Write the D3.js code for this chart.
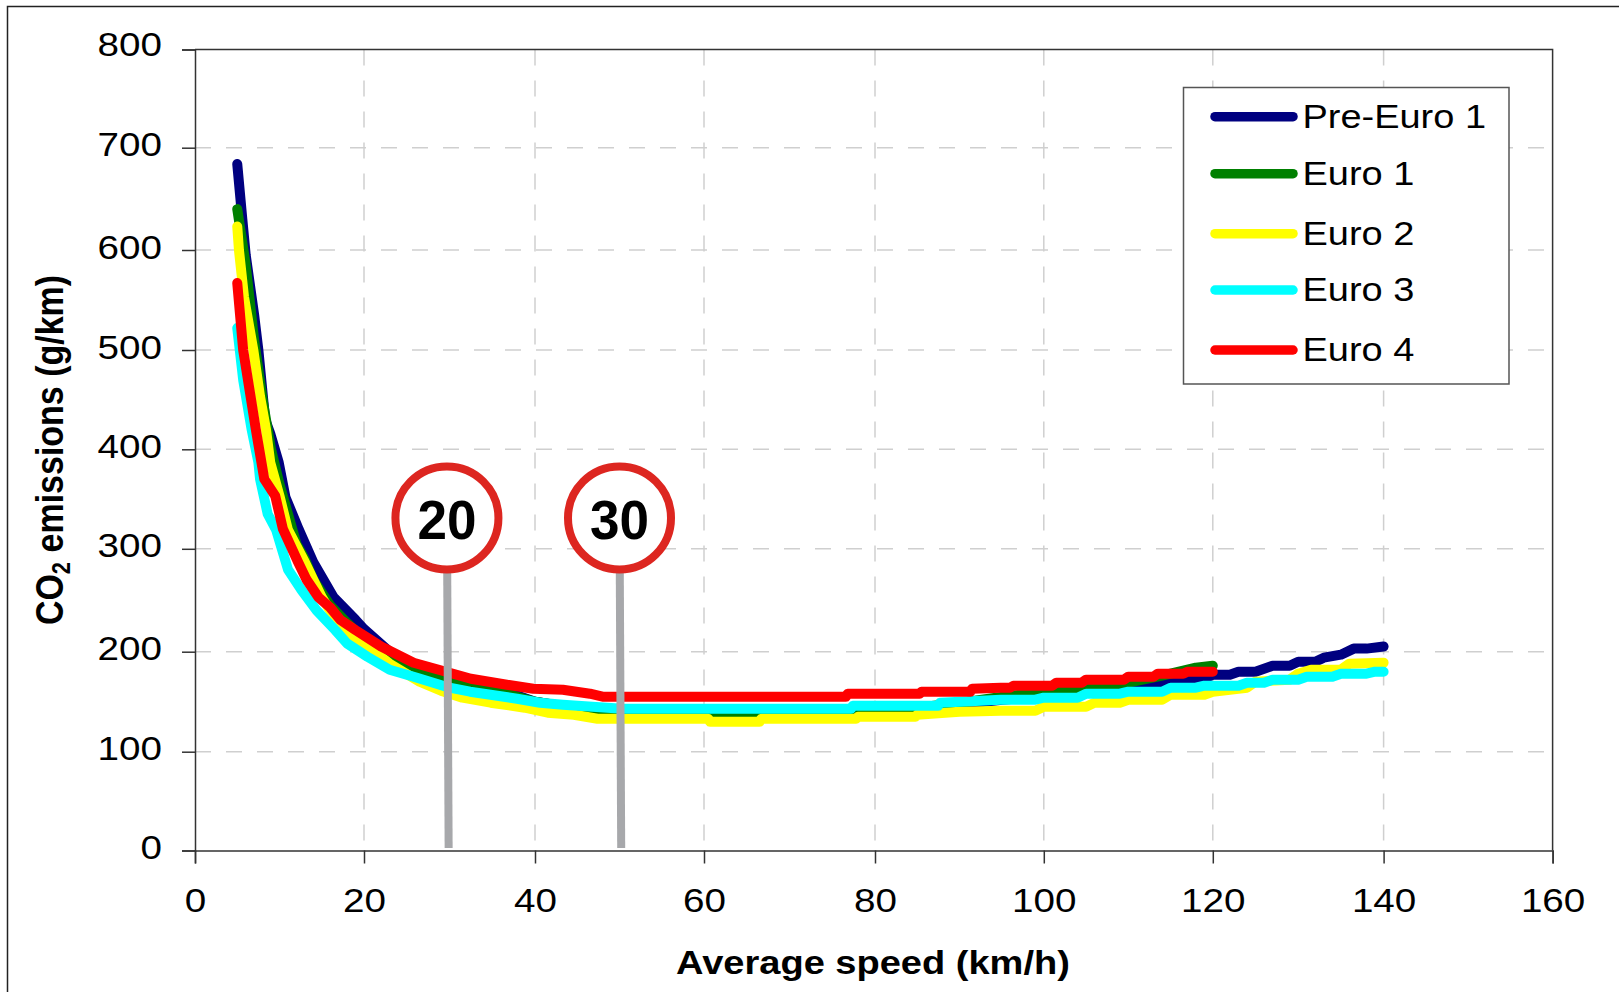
<!DOCTYPE html>
<html>
<head>
<meta charset="utf-8">
<script src="https://cdn.jsdelivr.net/npm/d3@7"></script>
<style>
  html, body { margin: 0; padding: 0; background: #fff; }
  svg { display: block; }
  text { font-family: "Liberation Sans", Arial, sans-serif; fill: #000; }
</style>
</head>
<body>
<div id="chartDiv"></div>
<script>
// Series values
var preEuro1Speed = [5, 5.6, 6, 7, 7.5, 8.3, 8.9, 9.9, 10.7, 12.3, 14, 16.4, 19, 20, 23, 26.8, 30, 33.5, 35, 40, 43, 47, 50, 60, 84, 87, 90, 95, 100, 105, 106, 107, 111, 112, 115, 116, 119, 120, 122, 123, 125, 126, 127, 129, 130, 132, 133, 135, 136.5, 138, 140];
var preEuro1Co2 = [684, 630, 595, 535, 500, 430, 416, 387, 352, 319, 287, 253, 231, 222, 200, 180, 174, 167, 165, 150, 146, 142, 140, 140, 141, 143, 147, 152, 155, 160, 160, 165, 165, 169, 169, 173, 173, 177, 177, 180, 180, 183, 186, 186, 190, 190, 194, 197, 203, 203, 205];

var euro1Speed = [5, 6, 7, 8, 9, 10, 11, 12, 13, 14, 16, 18, 20, 24.7, 30, 35, 40, 43.6, 47, 50, 60.7, 61, 66.7, 67, 77, 77.4, 85, 91, 96, 101, 103, 110, 114, 116, 118, 120];
var euro1Co2 = [640, 585, 510, 450, 400, 365, 335, 305, 290, 270, 245, 228, 212, 187, 173, 162, 150, 145, 142, 140, 140, 138, 138, 140, 140, 144, 144, 150, 156, 160, 162, 169, 176, 180, 184, 186];

var euro2Speed = [5, 5.2, 5.8, 6.9, 7.7, 8.4, 8.9, 10, 11, 13, 15, 17.5, 20, 23, 26.5, 29, 31.5, 34.8, 38.8, 41.5, 44.6, 47.4, 60.5, 60.7, 66.5, 66.7, 77.8, 78, 84.8, 85, 90, 94.9, 99, 100, 105, 106, 109, 110, 114, 115, 119, 120, 124, 125, 129, 130, 131.5, 135, 136, 140];
var euro2Co2 = [623, 600, 553, 500, 453, 420, 387, 353, 319, 287, 253, 220, 208, 188, 170, 161, 154, 149, 144, 139, 137, 133, 133, 130, 130, 133, 133, 135, 135, 137, 140, 141, 141, 145, 145, 149, 149, 152, 152, 157, 157, 160, 164, 170, 172, 178, 182, 182, 188, 189];

var euro3Speed = [5, 5.7, 6.7, 7.5, 7.7, 8.6, 9.6, 10.2, 11, 12.6, 14.4, 16.6, 18, 20.4, 23, 26.2, 30, 32.4, 34.8, 37.9, 40.6, 43.3, 50.3, 77.2, 77.4, 87.5, 87.7, 94.9, 99, 100, 104, 105, 109, 110, 114, 115, 118, 119, 123, 124, 126, 127, 130, 131, 134, 135, 138, 139, 140];
var euro3Co2 = [522, 470, 420, 387, 370, 335, 319, 302, 280, 260, 240, 221, 208, 195, 182, 174, 164, 160, 157, 153, 149, 147, 143, 143, 146, 146, 149, 152, 152, 154, 154, 158, 158, 160, 160, 164, 164, 166, 166, 169, 169, 172, 172, 175, 175, 178, 178, 180, 180];

var euro4Speed = [5, 5.7, 7.2, 7.5, 8.2, 9.5, 10.4, 12.2, 13.2, 14.6, 16, 17.2, 19, 22, 25.8, 30, 32.5, 36.7, 39.8, 43.3, 46.5, 48, 76.6, 76.8, 85.3, 85.5, 91.3, 91.5, 94.9, 96, 96.4, 101, 101.5, 104.5, 105, 109.5, 110, 113, 113.5, 116.5, 117, 120];
var euro4Co2 = [567, 500, 420, 405, 370, 353, 320, 287, 270, 253, 243, 231, 221, 205, 189, 179, 173, 167, 163, 162, 158, 155, 155, 158, 158, 160, 160, 163, 164, 164, 166, 166, 169, 169, 172, 172, 175, 175, 178, 178, 180, 180];

var seriesNames = ["Pre-Euro 1", "Euro 1", "Euro 2", "Euro 3", "Euro 4"];
var seriesSpeeds = [preEuro1Speed, euro1Speed, euro2Speed, euro3Speed, euro4Speed];
var seriesValues = [preEuro1Co2, euro1Co2, euro2Co2, euro3Co2, euro4Co2];
var seriesColors = ["#000080", "#008000", "#ffff00", "#00ffff", "#ff0000"];

var xTicks = [0, 20, 40, 60, 80, 100, 120, 140, 160];
var yTicks = [0, 100, 200, 300, 400, 500, 600, 700, 800];

// speed limit signs
var signSpeeds = [29.7, 50];
var signLabels = ["20", "30"];
var signHeight = 331;   // centre of the sign on the y scale
var poleBottom = 2.5;

var width = 1619;
var height = 992;

var svg = d3.select("#chartDiv")
    .append("svg")
    .attr("width", width)
    .attr("height", height);

// the reference's ticks are not quite evenly spaced
var xScale = d3.scaleLinear()
    .domain(xTicks)
    .range([195, 364, 535, 704, 875, 1043.8, 1212.8, 1383.6, 1552.6]);

var yScale = d3.scaleLinear()
    .domain(yTicks)
    .range([850.5, 751.7, 651.7, 548.8, 449.3, 350, 250, 147.7, 49.5]);

// the picture is widened, so the type is as well
function widen(sel, stretch) {
    sel.each(function() {
        d3.select(this)
            .attr("textLength", this.getComputedTextLength() * stretch)
            .attr("lengthAdjust", "spacingAndGlyphs");
    });
}

// Outer frame, only left and top show
svg.append("path")
    .attr("d", "M7.5," + height + "V6.5H" + width)
    .attr("fill", "none")
    .attr("stroke", "#222")
    .attr("stroke-width", 1.5);

// Gridlines
svg.append("g").selectAll("line")
    .data(xTicks.slice(1, -1))
    .enter()
    .append("line")
    .attr("x1", function(d) { return xScale(d); })
    .attr("x2", function(d) { return xScale(d); })
    .attr("y1", yScale(800))
    .attr("y2", yScale(0))
    .attr("stroke", "#cfcfcf")
    .attr("stroke-width", 1.5)
    .attr("stroke-dasharray", "16 15");

svg.append("g").selectAll("line")
    .data(yTicks.slice(1, -1))
    .enter()
    .append("line")
    .attr("x1", xScale(0))
    .attr("x2", xScale(160))
    .attr("y1", function(d) { return yScale(d); })
    .attr("y2", function(d) { return yScale(d); })
    .attr("stroke", "#cfcfcf")
    .attr("stroke-width", 1.5)
    .attr("stroke-dasharray", "16 15");

// Plot border on top and right
svg.append("path")
    .attr("d", "M" + xScale(0) + "," + yScale(800) + "H" + xScale(160) + "V" + yScale(0))
    .attr("fill", "none")
    .attr("stroke", "#333")
    .attr("stroke-width", 1.5);

// Axes
var xAxis = d3.axisBottom(xScale).tickValues(xTicks).tickSize(13).tickFormat(d3.format("d"));
var yAxis = d3.axisLeft(yScale).tickValues(yTicks).tickSize(13).tickFormat(d3.format("d"));

var xAxisG = svg.append("g")
    .attr("transform", "translate(0," + yScale(0) + ")")
    .call(xAxis);
var yAxisG = svg.append("g")
    .attr("transform", "translate(" + xScale(0) + ",0)")
    .call(yAxis);

[xAxisG, yAxisG].forEach(function(g) {
    g.selectAll("path, line").attr("stroke", "#333").attr("stroke-width", 1.5);
    g.selectAll("text").attr("font-size", 33).style("font-family", '"Liberation Sans"').attr("fill", "#000");
});
xAxisG.selectAll("text").attr("y", 61.5).attr("dy", 0).call(widen, 1.17);
yAxisG.selectAll("text")
    .attr("x", -33)
    .attr("dy", function(d) { return d === 800 ? 6 : 8; })
    .call(widen, 1.17);

// Curves
var line = d3.line()
    .x(function(d) { return xScale(d[0]); })
    .y(function(d) { return yScale(d[1]); });

svg.append("g").selectAll("path")
    .data(seriesNames)
    .enter()
    .append("path")
    .attr("d", function(d, i) { return line(d3.zip(seriesSpeeds[i], seriesValues[i])); })
    .attr("fill", "none")
    .attr("stroke", function(d, i) { return seriesColors[i]; })
    .attr("stroke-width", 10)
    .attr("stroke-linecap", "round")
    .attr("stroke-linejoin", "round");

// Signs
var signs = svg.append("g").selectAll("g")
    .data(signSpeeds)
    .enter()
    .append("g");

signs.append("line")
    .attr("x1", function(d) { return xScale(d); })
    .attr("x2", function(d) { return xScale(d) + 1.7; })
    .attr("y1", yScale(signHeight))
    .attr("y2", yScale(poleBottom))
    .attr("stroke", "#a7a8ab")
    .attr("stroke-width", 8);

signs.append("circle")
    .attr("cx", function(d) { return xScale(d); })
    .attr("cy", yScale(signHeight))
    .attr("r", 51.5)
    .attr("fill", "#fff")
    .attr("stroke", "#dd2620")
    .attr("stroke-width", 8);

signs.append("text")
    .attr("x", function(d) { return xScale(d); })
    .attr("y", yScale(signHeight) + 21)
    .attr("text-anchor", "middle")
    .attr("font-size", 56)
    .attr("font-weight", "bold")
    .attr("textLength", 59)
    .attr("lengthAdjust", "spacingAndGlyphs")
    .text(function(d, i) { return signLabels[i]; });

// Legend
svg.append("rect")
    .attr("x", 1183.5)
    .attr("y", 87.5)
    .attr("width", 325.5)
    .attr("height", 296.5)
    .attr("fill", "#fff")
    .attr("stroke", "#555")
    .attr("stroke-width", 1.5);

var legendY = [116.7, 173.7, 233.7, 290, 350];

var legend = svg.append("g").selectAll("g")
    .data(seriesNames)
    .enter()
    .append("g");

legend.append("line")
    .attr("x1", 1215)
    .attr("x2", 1293)
    .attr("y1", function(d, i) { return legendY[i]; })
    .attr("y2", function(d, i) { return legendY[i]; })
    .attr("stroke", function(d, i) { return seriesColors[i]; })
    .attr("stroke-width", 9.5)
    .attr("stroke-linecap", "round");

legend.append("text")
    .attr("x", 1302.5)
    .attr("y", function(d, i) { return legendY[i] + 11.3; })
    .attr("font-size", 33)
    .text(function(d) { return d; })
    .call(widen, 1.15);

// Axis titles
svg.append("text")
    .attr("x", 873)
    .attr("y", 974)
    .attr("text-anchor", "middle")
    .attr("font-size", 32.5)
    .attr("font-weight", "bold")
    .text("Average speed (km/h)")
    .call(widen, 1.17);

var yTitle = svg.append("text")
    .attr("transform", "translate(63,450) rotate(-90) scale(1,1.14)")
    .attr("text-anchor", "middle")
    .attr("font-size", 34)
    .attr("font-weight", "bold");
yTitle.append("tspan").text("CO");
yTitle.append("tspan").attr("font-size", 22).attr("dy", 6).text("2");
yTitle.append("tspan").attr("dy", -6).text(" emissions (g/km)");
</script>
</body>
</html>
